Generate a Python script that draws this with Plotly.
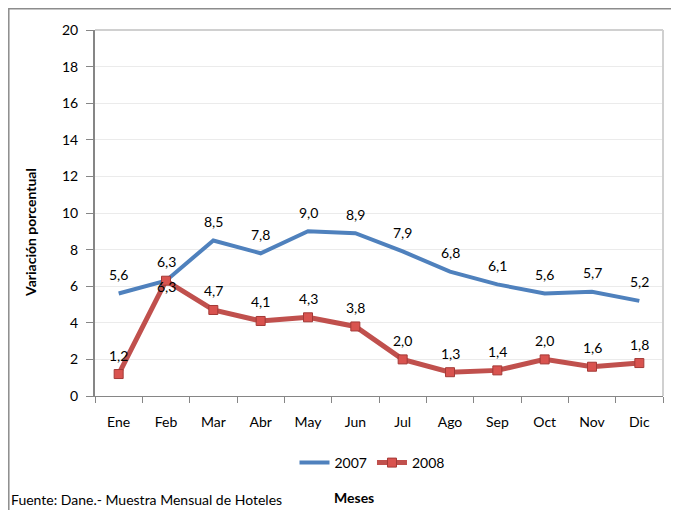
import plotly.graph_objects as go

months = ["Ene", "Feb", "Mar", "Abr", "May", "Jun", "Jul", "Ago", "Sep", "Oct", "Nov", "Dic"]
serie_2007 = [5.6, 6.3, 8.5, 7.8, 9.0, 8.9, 7.9, 6.8, 6.1, 5.6, 5.7, 5.2]
serie_2008 = [1.2, 6.3, 4.7, 4.1, 4.3, 3.8, 2.0, 1.3, 1.4, 2.0, 1.6, 1.8]
y_ticks = [0, 2, 4, 6, 8, 10, 12, 14, 16, 18, 20]

# page body adds an 8px offset; work in window pixels and convert
OFF = 8
WIN_W, WIN_H = 679, 510
W, H = WIN_W - OFF, WIN_H - OFF
L, R, T, B = 95, 663, 30, 396  # plot area in window pixels

def px(x):
    return (x - L) / (R - L)

def py(y):
    return (B - y) / (B - T)

def fmt(v):
    return f"{v:.1f}".replace(".", ",")

FONT = "Lato"
FS = 14

fig = go.Figure()
fig.add_trace(go.Scatter(
    x=months, y=serie_2007, name="2007", mode="lines",
    line=dict(color="#4F81BD", width=4),
))
fig.add_trace(go.Scatter(
    x=months, y=serie_2008, name="2008", mode="lines+markers",
    line=dict(color="#C0504D", width=5),
    marker=dict(symbol="square", size=9, color="#D9534F", line=dict(color="#A33A37", width=1)),
))

annotations = []
for i, (m, v) in enumerate(zip(months, serie_2007)):
    annotations.append(dict(x=m, y=v, text=fmt(v), showarrow=False, yshift=19,
                            font=dict(size=FS, family=FONT, color="black")))
for i, (m, v) in enumerate(zip(months, serie_2008)):
    shift = -6 if i == 1 else 19
    annotations.append(dict(x=m, y=v, text=fmt(v), showarrow=False, yshift=shift,
                            font=dict(size=FS, family=FONT, color="black")))

annotations += [
    dict(text="<b>Variación porcentual</b>", xref="paper", yref="paper", x=px(30), y=py(233),
         textangle=-90, showarrow=False, font=dict(size=FS, family=FONT),
         xanchor="center", yanchor="middle"),
    dict(text="<b>Meses</b>", xref="paper", yref="paper", x=px(354), y=py(497),
         showarrow=False, font=dict(size=FS, family=FONT), xanchor="center", yanchor="middle"),
    dict(text="Fuente: Dane.- Muestra Mensual de Hoteles", xref="paper", yref="paper",
         x=px(9), y=py(500), showarrow=False, font=dict(size=14, family=FONT),
         xanchor="left", yanchor="middle"),
]

fig.update_layout(
    width=W, height=H,
    margin=dict(l=L - OFF, r=WIN_W - R, t=T - OFF, b=WIN_H - B),
    paper_bgcolor="white", plot_bgcolor="white",
    font=dict(family=FONT, size=FS, color="black"),
    showlegend=True,
    legend=dict(orientation="h", x=px(372), y=py(463), xanchor="center", yanchor="middle",
                font=dict(size=FS, family=FONT), bgcolor="rgba(0,0,0,0)"),
    xaxis=dict(type="category", range=[-0.5, 11.5], tickson="boundaries", ticks="outside",
               ticklen=6, tickcolor="#868686", showline=True, linecolor="#868686", linewidth=1,
               showgrid=False, ticklabelstandoff=13, tickfont=dict(size=FS, family=FONT),
               fixedrange=True),
    yaxis=dict(range=[0, 20], tickvals=y_ticks, ticks="outside", ticklen=7, tickcolor="#868686",
               showline=True, linecolor="#868686", linewidth=2, showgrid=True,
               gridcolor="#EBEBEB", gridwidth=1, zeroline=False, ticklabelstandoff=5,
               tickfont=dict(size=FS, family=FONT)),
    shapes=[
        dict(type="rect", xref="paper", yref="paper", x0=px(8.8), x1=px(720), y0=py(560), y1=py(8.8),
             line=dict(color="#8C8C8C", width=1.5), layer="below"),
        dict(type="line", xref="paper", yref="paper", x0=0, x1=1, y0=1, y1=1,
             line=dict(color="#D0D0D0", width=2)),
        dict(type="line", xref="paper", yref="paper", x0=1, x1=1, y0=0, y1=1,
             line=dict(color="#D0D0D0", width=2)),
    ],
    annotations=annotations,
)

fig.write_html("out.html")
